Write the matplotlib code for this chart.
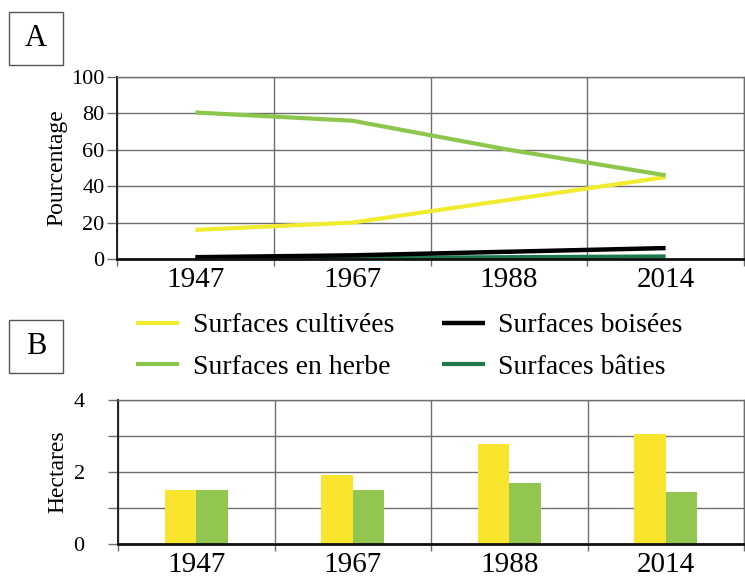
import numpy as np
import matplotlib
matplotlib.use("Agg")
import matplotlib.pyplot as plt
from matplotlib.patches import Rectangle
from matplotlib.ticker import FixedLocator, FixedFormatter

plt.rcParams['font.family'] = ['Liberation Serif', 'DejaVu Serif']

# Data
years = ["1947", "1967", "1988", "2014"]

# A: land use share (%)
pct_cultivees = [16, 20, 32.5, 45]
pct_herbe = [80.5, 76, 60, 46]
pct_boisees = [1, 2, 4, 6]
pct_baties = [0.3, 0.6, 1.0, 1.4]

# B: mean plot size (ha)
ha_cultivees = [1.5, 1.92, 2.78, 3.06]
ha_herbe = [1.5, 1.5, 1.7, 1.45]

series_labels = ["Surfaces cultivées", "Surfaces en herbe",
                 "Surfaces boisées", "Surfaces bâties"]

c_yellow_line = "#F2EC30"
c_green_line = "#8CC64C"
c_black = "#000000"
c_dark_green = "#1E7A4C"
c_yellow_bar = "#F9E52E"
c_green_bar = "#92C650"
grid_c = "#6E6E6E"

W, H = 745, 578
fig = plt.figure(figsize=(W / 100, H / 100), dpi=100)


def px_axes(left, top, right, bottom):
    return fig.add_axes([left / W, 1 - bottom / H, (right - left) / W, (bottom - top) / H])


def style_axes(ax, ymax, yticks, ylabels, ylabel, ypad):
    xc = np.arange(len(years)) + 0.5
    ax.set_xlim(0, len(years))
    ax.set_ylim(0, ymax)
    ax.set_xticks(xc)
    ax.set_xticklabels(years, fontsize=21)
    ax.set_xticks(np.arange(len(years) + 1), minor=True)
    ax.tick_params(axis='x', which='major', length=0, pad=6)
    ax.tick_params(axis='x', which='minor', length=5, width=1, color=grid_c)
    ax.yaxis.set_major_locator(FixedLocator(yticks))
    ax.yaxis.set_major_formatter(FixedFormatter(ylabels))
    ax.tick_params(axis='y', which='major', length=7, width=1, color=grid_c,
                   labelsize=16, pad=ypad)
    ax.grid(which='minor', axis='x', color=grid_c, lw=1)
    ax.grid(which='major', axis='y', color=grid_c, lw=1)
    ax.set_axisbelow(True)
    for s in ('top', 'right'):
        ax.spines[s].set_color(grid_c)
        ax.spines[s].set_linewidth(1)
    ax.spines['left'].set_color('#222222')
    ax.spines['left'].set_linewidth(1.4)
    ax.spines['bottom'].set_color('#111111')
    ax.spines['bottom'].set_linewidth(2)
    ax.set_ylabel(ylabel, fontsize=17)
    ax.yaxis.set_label_coords(-0.079, 0.5)
    return xc


# Panel A: lines
axA = px_axes(117, 77, 744, 259)
xc = style_axes(axA, 100, [0, 20, 40, 60, 80, 100],
                ["0", "20", "40", "60", "80", "100"], "Pourcentage", 2)
l1, = axA.plot(xc, pct_cultivees, color=c_yellow_line, lw=3, solid_capstyle='butt')
l2, = axA.plot(xc, pct_herbe, color=c_green_line, lw=3, solid_capstyle='butt')
l4, = axA.plot(xc, pct_baties, color=c_dark_green, lw=3, solid_capstyle='butt', clip_on=False)
l3, = axA.plot(xc, pct_boisees, color=c_black, lw=3.2, solid_capstyle='butt', clip_on=False)

# Panel B: bars
axB = px_axes(118, 400, 744, 544)
xcB = style_axes(axB, 4, [0, 1, 2, 3, 4], ["0", "", "2", "", "4"], "Hectares", 17)
bw = 0.2
axB.bar(xcB - bw / 2, ha_cultivees, width=bw, color=c_yellow_bar, zorder=2)
axB.bar(xcB + bw / 2, ha_herbe, width=bw, color=c_green_bar, zorder=2)

# Shared legend
fig.legend([l1, l2, l3, l4], series_labels, ncol=2, loc='upper left',
           bbox_to_anchor=(136 / W, 1 - 313 / H), frameon=False, fontsize=20,
           handlelength=1.55, handletextpad=0.5, columnspacing=1.7,
           labelspacing=0.57, borderpad=0, borderaxespad=0)

# Panel letters
for letter, top in (("A", 12), ("B", 320)):
    x0, y0, w, h = 9, top, 54, 53
    fig.patches.append(Rectangle((x0 / W, 1 - (y0 + h) / H), w / W, h / H,
                                 transform=fig.transFigure, fill=False,
                                 edgecolor="#555555", lw=1))
    fig.text((x0 + w / 2) / W, 1 - (y0 + h / 2) / H, letter, fontsize=22,
             ha='center', va='center')

fig.savefig("out.png", dpi=100)
